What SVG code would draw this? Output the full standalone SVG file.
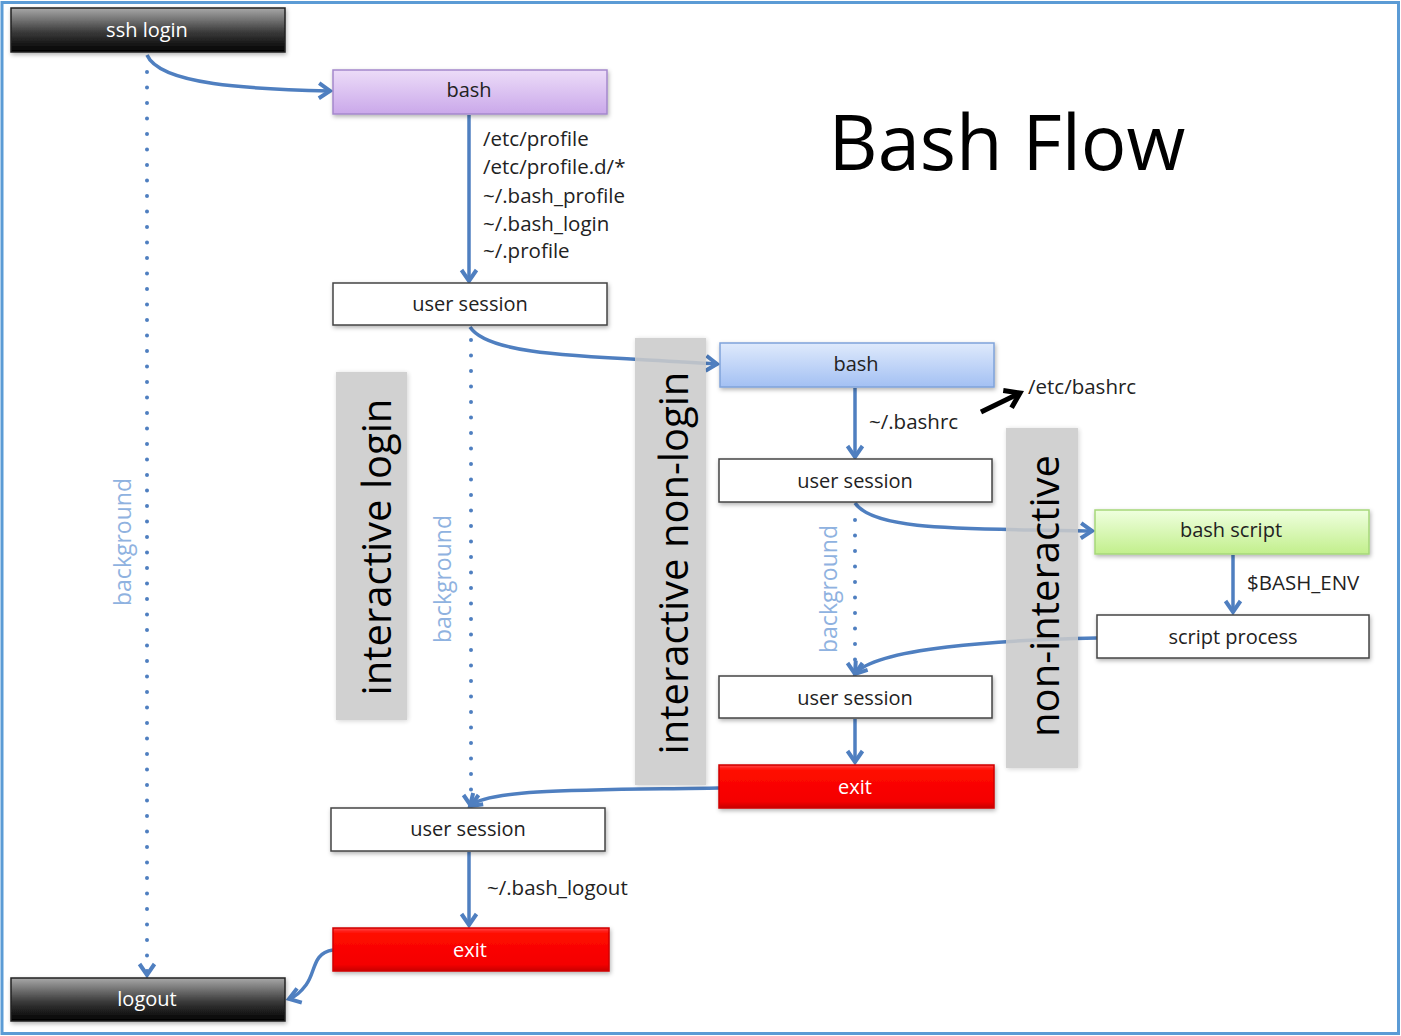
<svg xmlns="http://www.w3.org/2000/svg" width="1401" height="1036" viewBox="0 0 1401 1036">
<defs>
  <linearGradient id="gBlack" x1="0" y1="0" x2="0" y2="1">
    <stop offset="0" stop-color="#a8a8a8"/>
    <stop offset="0.55" stop-color="#3a3a3a"/>
    <stop offset="1" stop-color="#000"/>
  </linearGradient>
  <linearGradient id="gPurple" x1="0" y1="0" x2="0" y2="1">
    <stop offset="0" stop-color="#ecdcf8"/>
    <stop offset="1" stop-color="#caa8ea"/>
  </linearGradient>
  <linearGradient id="gBlue" x1="0" y1="0" x2="0" y2="1">
    <stop offset="0" stop-color="#dfeafc"/>
    <stop offset="1" stop-color="#a3c0f3"/>
  </linearGradient>
  <linearGradient id="gGreen" x1="0" y1="0" x2="0" y2="1">
    <stop offset="0" stop-color="#efffdf"/>
    <stop offset="1" stop-color="#c2ef8c"/>
  </linearGradient>
  <linearGradient id="gRed" x1="0" y1="0" x2="0" y2="1">
    <stop offset="0" stop-color="#ff4a4a"/>
    <stop offset="0.12" stop-color="#ff0a00"/>
    <stop offset="0.85" stop-color="#f40000"/>
    <stop offset="1" stop-color="#c80000"/>
  </linearGradient>
  <filter id="shadow" x="-5%" y="-20%" width="110%" height="150%">
    <feDropShadow dx="1" dy="2" stdDeviation="2" flood-color="#000" flood-opacity="0.3"/>
  </filter>
  <filter id="bandShadow" x="-20%" y="-5%" width="140%" height="110%">
    <feDropShadow dx="1" dy="1" stdDeviation="2.5" flood-color="#000" flood-opacity="0.2"/>
  </filter>
  <marker id="arr" viewBox="0 0 16 18" refX="13" refY="9" markerWidth="16" markerHeight="18" markerUnits="userSpaceOnUse" orient="auto" overflow="visible">
    <path d="M2,1.5 L13,9 L2,16.5" fill="none" stroke="#4f7fc0" stroke-width="4" stroke-linejoin="miter"/>
  </marker>
  <marker id="arrBlack" viewBox="0 0 20 22" refX="16" refY="11" markerWidth="20" markerHeight="22" markerUnits="userSpaceOnUse" orient="auto" overflow="visible">
    <path d="M2,1.5 L16,11 L2,20.5" fill="none" stroke="#000" stroke-width="5"/>
  </marker>
  <style>
    .box { stroke-width: 1.5; filter: url(#shadow); }
    .white { fill: #fff; stroke: #444; }
    .dark { fill: url(#gBlack); stroke: #222; }
    .red { fill: url(#gRed); stroke: #d00000; }
    .lbl { font-family: "Open Sans", "Noto Sans", "DejaVu Sans", sans-serif; font-size: 20px; fill: #222; text-anchor: middle; dominant-baseline: central; }
    .lblw { font-family: "Open Sans", "Noto Sans", "DejaVu Sans", sans-serif; font-size: 20px; fill: #fff; text-anchor: middle; dominant-baseline: central; }
    .note { font-family: "Open Sans", "Noto Sans", "DejaVu Sans", sans-serif; font-size: 20.5px; fill: #222; dominant-baseline: central; }
    .bg { font-family: "Open Sans", "Noto Sans", "DejaVu Sans", sans-serif; font-size: 23px; fill: #8fb2e0; text-anchor: middle; dominant-baseline: central; }
    .band { fill: #cbcbcb; opacity: 0.88; filter: url(#bandShadow); }
    .bandtxt { font-family: "Open Sans", "Noto Sans", "DejaVu Sans", sans-serif; font-size: 40px; fill: #000; text-anchor: middle; dominant-baseline: central; }
    .conn { fill: none; stroke: #4f7fc0; stroke-width: 3.5; }
    .dots { fill: none; stroke: #4f7fc0; stroke-width: 4; stroke-dasharray: 0 15.5; stroke-linecap: round; }
  </style>
</defs>

<rect x="0" y="0" width="1401" height="1036" fill="#fff"/>
<rect x="2" y="2.5" width="1396.5" height="1031" fill="none" stroke="#5b9bd5" stroke-width="3"/>

<text x="1007" y="140" font-family="Open Sans, Noto Sans, DejaVu Sans, sans-serif" font-size="76" fill="#000" text-anchor="middle" dominant-baseline="central">Bash Flow</text>

<g id="connectors">
  <path class="conn" d="M147,55 C160,85 250,89 330,91" marker-end="url(#arr)"/>
  <path class="dots" d="M147,72 L147,975" marker-end="url(#arr)"/>
  <path class="conn" d="M469,115 L469,281" marker-end="url(#arr)"/>
  <path class="dots" d="M471,340 L471,806" marker-end="url(#arr)"/>
  <path class="conn" d="M470,327 C490,358 600,356 717,364" marker-end="url(#arr)"/>
  <path d="M981,412 L1020,393" fill="none" stroke="#000" stroke-width="5" marker-end="url(#arrBlack)"/>
  <path class="conn" d="M855,388 L855,457" marker-end="url(#arr)"/>
  <path class="conn" d="M855,503 C875,533 980,528 1092,531" marker-end="url(#arr)"/>
  <path class="dots" d="M855,520 L855,674" marker-end="url(#arr)"/>
  <path class="conn" d="M1233,555 L1233,612" marker-end="url(#arr)"/>
  <path class="conn" d="M1097,638 C1000,640 875,648 855,674" marker-end="url(#arr)"/>
  <path class="conn" d="M855,719 L855,762" marker-end="url(#arr)"/>
  <path class="conn" d="M719,788 C600,790 490,788 470,806" marker-end="url(#arr)"/>
  <path class="conn" d="M469,852 L469,925" marker-end="url(#arr)"/>
  <path class="conn" d="M333,950 C312,953 316,972 306,985 C300,993 295,997 289,999" marker-end="url(#arr)"/>
</g>

<g id="band-interactive-login">
  <rect class="band" x="336" y="372" width="71" height="348"/>
  <text class="bandtxt" transform="translate(375,547) rotate(-90)">interactive login</text>
</g>
<g id="band-interactive-non-login">
  <rect class="band" x="635" y="338" width="71" height="447"/>
  <text class="bandtxt" transform="translate(672,563) rotate(-90)" font-size="41">interactive non-login</text>
</g>
<g id="band-non-interactive">
  <rect class="band" x="1006" y="428" width="72" height="340"/>
  <text class="bandtxt" transform="translate(1043,596) rotate(-90)" font-size="41">non-interactive</text>
</g>

<g id="bg-labels">
  <text class="bg" transform="translate(122,542) rotate(-90)">background</text>
  <text class="bg" transform="translate(442,579) rotate(-90)">background</text>
  <text class="bg" transform="translate(828,589) rotate(-90)">background</text>
</g>

<g id="node-ssh-login">
  <rect class="box dark" x="11" y="8" width="274" height="44"/>
  <text class="lblw" x="147" y="29">ssh login</text>
</g>
<g id="node-bash-login">
  <rect class="box" x="333" y="70" width="274" height="44" fill="url(#gPurple)" stroke="#a488cc"/>
  <text class="lbl" x="469" y="89">bash</text>
</g>
<g id="labels-profile">
  <text class="note" x="483" y="138">/etc/profile</text>
  <text class="note" x="483" y="166">/etc/profile.d/*</text>
  <text class="note" x="483" y="195">~/.bash_profile</text>
  <text class="note" x="483" y="223">~/.bash_login</text>
  <text class="note" x="483" y="250">~/.profile</text>
</g>
<g id="node-user-session-1">
  <rect class="box white" x="333" y="283" width="274" height="42"/>
  <text class="lbl" x="470" y="303">user session</text>
</g>
<g id="node-bash-nonlogin">
  <rect class="box" x="720" y="343" width="274" height="44" fill="url(#gBlue)" stroke="#7fa3da"/>
  <text class="lbl" x="856" y="363">bash</text>
</g>
<text class="note" x="1028" y="386">/etc/bashrc</text>
<text class="note" x="869" y="421">~/.bashrc</text>
<g id="node-user-session-2">
  <rect class="box white" x="719" y="459" width="273" height="43"/>
  <text class="lbl" x="855" y="480">user session</text>
</g>
<g id="node-bash-script">
  <rect class="box" x="1095" y="510" width="274" height="44" fill="url(#gGreen)" stroke="#a6d77a"/>
  <text class="lbl" x="1231" y="529">bash script</text>
</g>
<text class="note" x="1247" y="582">$BASH_ENV</text>
<g id="node-script-process">
  <rect class="box white" x="1097" y="615" width="272" height="43"/>
  <text class="lbl" x="1233" y="636">script process</text>
</g>
<g id="node-user-session-3">
  <rect class="box white" x="719" y="676" width="273" height="42"/>
  <text class="lbl" x="855" y="697">user session</text>
</g>
<g id="node-exit-2">
  <rect class="box red" x="719" y="765" width="275" height="43"/>
  <text class="lblw" x="855" y="786">exit</text>
</g>
<g id="node-user-session-4">
  <rect class="box white" x="331" y="808" width="274" height="43"/>
  <text class="lbl" x="468" y="828">user session</text>
</g>
<text class="note" x="487" y="887">~/.bash_logout</text>
<g id="node-exit-1">
  <rect class="box red" x="333" y="928" width="276" height="43"/>
  <text class="lblw" x="470" y="949">exit</text>
</g>
<g id="node-logout">
  <rect class="box dark" x="11" y="978" width="274" height="43"/>
  <text class="lblw" x="147" y="998">logout</text>
</g>
</svg>
